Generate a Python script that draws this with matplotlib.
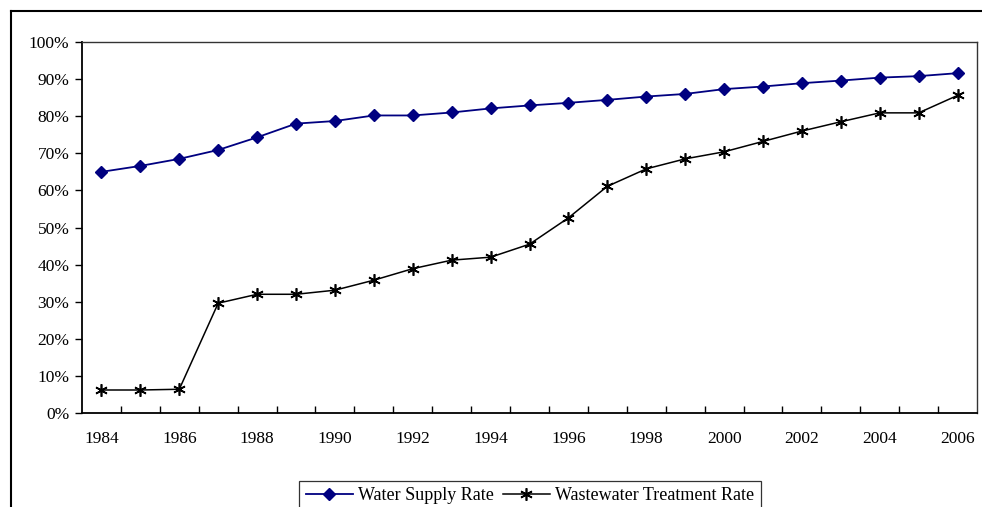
import matplotlib.pyplot as plt
from matplotlib.lines import Line2D
from matplotlib.ticker import FuncFormatter

plt.rcParams['font.family'] = ['Liberation Serif', 'DejaVu Serif']

# data
years = list(range(1984, 2007))
water_supply = [65.0, 66.6, 68.5, 70.9, 74.3, 78.0, 78.7, 80.2, 80.2, 81.0, 82.1, 82.9,
                83.6, 84.4, 85.3, 86.0, 87.3, 88.0, 88.9, 89.6, 90.4, 90.8, 91.6]
wastewater = [6.2, 6.2, 6.4, 29.6, 32.0, 32.0, 33.1, 35.8, 38.9, 41.2, 42.0, 45.5,
              52.6, 61.1, 65.8, 68.5, 70.4, 73.2, 76.0, 78.5, 80.9, 80.9, 85.6]

fig = plt.figure(figsize=(9.82, 5.07), dpi=100)
ax = fig.add_axes([82 / 982, 1 - 413 / 507, 895 / 982, 371 / 507])

x = list(range(len(years)))
ax.plot(x, water_supply, color='#000080', lw=1.3, marker='D', ms=6.5,
        label='Water Supply Rate')
ax.plot(x, wastewater, color='black', lw=1.1, marker=(6, 2, 0), ms=9, mew=1.2,
        label='Wastewater Treatment Rate')

ax.set_xlim(-0.5, len(years) - 0.5)
ax.set_ylim(0, 100)

# category axis: labels every other year, tick marks at category edges
ax.set_xticks(x[::2])
ax.set_xticklabels([str(y) for y in years[::2]], fontsize=12.5)
ax.set_xticks([i + 0.5 for i in x[:-1]], minor=True)
ax.tick_params(axis='x', which='major', length=0, pad=13)
ax.tick_params(axis='x', which='minor', direction='in', length=5, width=1)

ax.set_yticks(range(0, 101, 10))
ax.yaxis.set_major_formatter(FuncFormatter(lambda v, p: f'{int(v)}%'))
ax.tick_params(axis='y', direction='out', length=5, width=1, labelsize=12.5, pad=4)

for s in ['left', 'bottom']:
    ax.spines[s].set_linewidth(1.3)
    ax.spines[s].set_color('black')
for s in ['top', 'right']:
    ax.spines[s].set_linewidth(1.0)
    ax.spines[s].set_color('#333333')

leg = ax.legend(loc='upper center', bbox_to_anchor=(530 / 982, 1 - 472 / 507),
                bbox_transform=fig.transFigure, ncol=2, fontsize=13,
                frameon=True, fancybox=False, edgecolor='black',
                handlelength=2.6, columnspacing=0.5, handletextpad=0.3,
                borderpad=0.35)
leg.get_frame().set_linewidth(0.9)

# outer chart frame (only top and left edges visible)
fig.add_artist(Line2D([11 / 982, 11 / 982], [0, 1 - 11 / 507], color='black', lw=1.5,
                      transform=fig.transFigure))
fig.add_artist(Line2D([11 / 982, 1], [1 - 11 / 507, 1 - 11 / 507], color='black', lw=1.5,
                      transform=fig.transFigure))

fig.savefig('out.png', dpi=100)
